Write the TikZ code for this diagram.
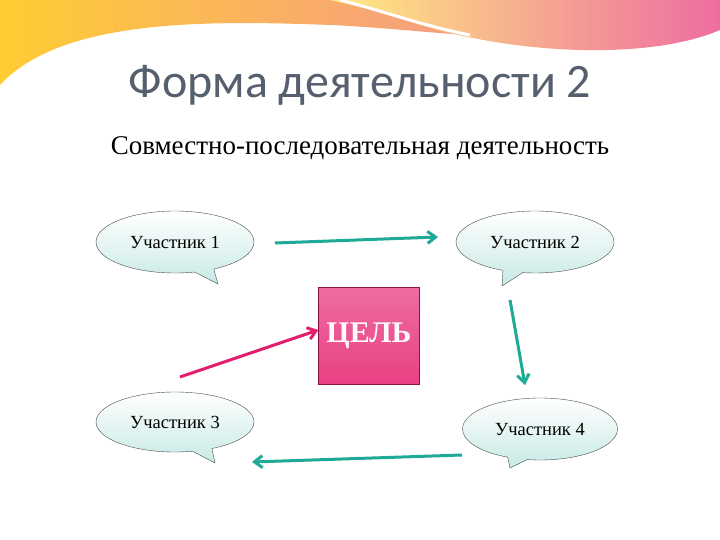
\documentclass[tikz,border=0pt]{standalone}
\usepackage{fontspec}
\setmainfont{Liberation Serif}
\newfontfamily\titlefont{Carlito}
\usetikzlibrary{shapes.callouts,arrows.meta}
\definecolor{teal1}{RGB}{30,170,150}
\definecolor{pinkA}{RGB}{228,30,110}
\definecolor{titlec}{RGB}{85,95,110}
\tikzset{
  bubble/.style={ellipse callout, draw=black!70, thin, top color=white, bottom color=teal1!25,
     minimum width=158pt, minimum height=62pt, font=\fontsize{18.5}{20}\selectfont},
  tarrow/.style={draw=teal1, line width=3pt, -{Straight Barb[length=8pt,width=12pt]}},
  parrow/.style={draw=pinkA, line width=3pt, -{Straight Barb[length=8pt,width=12pt]}}
}
\begin{document}
\begin{tikzpicture}[x=1pt,y=-1pt]
\useasboundingbox (0,0) rectangle (720,540);
\fill[white] (0,0) rectangle (720,540);
% top decoration
\shade[left color=orange!50!yellow!80, right color=pinkA!55] (0,0) -- (720,0) -- (720,10)
  .. controls (600,60) and (450,30) .. (330,25) .. controls (200,20) and (60,20) .. (0,85) -- cycle;
\shade[left color=orange!30!yellow!50, right color=pinkA!65] (330,0) -- (720,0) -- (720,30)
  .. controls (650,60) and (520,55) .. (420,25) .. controls (380,10) and (350,5) .. (330,0) -- cycle;
\draw[white, line width=3pt] (340,0) .. controls (380,10) and (420,25) .. (470,35);
% titles
\node[font=\titlefont\fontsize{48}{52}\selectfont, text=titlec] (title) at (360,85) {Форма деятельности 2};
\node[font=\fontsize{27}{30}\selectfont] (sub) at (360,148) {Совместно-последовательная деятельность};
% bubbles
\node[bubble, callout absolute pointer={(218,284)}] (p1) at (175,242) {Участник 1};
\node[bubble, callout absolute pointer={(502,286)}] (p2) at (535,242) {Участник 2};
\node[bubble, minimum height=60pt, callout absolute pointer={(215,463)}] (p3) at (175,422) {Участник 3};
\node[bubble, minimum width=155pt, callout absolute pointer={(510,468)}] (p4) at (540,429) {Участник 4};
% goal
\node[draw=pinkA!60!black, minimum width=101pt, minimum height=97pt, inner sep=0pt,
  top color=pinkA!65, bottom color=pinkA!85, text=white!90!pink,
  font=\bfseries\fontsize{30}{33}\selectfont] (goal) at (369,336) {ЦЕЛЬ};
% arrows
\coordinate (a1) at (275,243); \coordinate (b1) at (438,237);
\coordinate (a2) at (510,300); \coordinate (b2) at (525,385);
\coordinate (a3) at (462,455); \coordinate (b3) at (252,462);
\coordinate (a4) at (180,377);
\draw[tarrow] (a1) -- (b1);
\draw[tarrow] (a2) -- (b2);
\draw[tarrow] (a3) -- (b3);
\draw[parrow] (a4) -- (goal.west |- 0,330);
\end{tikzpicture}
\end{document}
